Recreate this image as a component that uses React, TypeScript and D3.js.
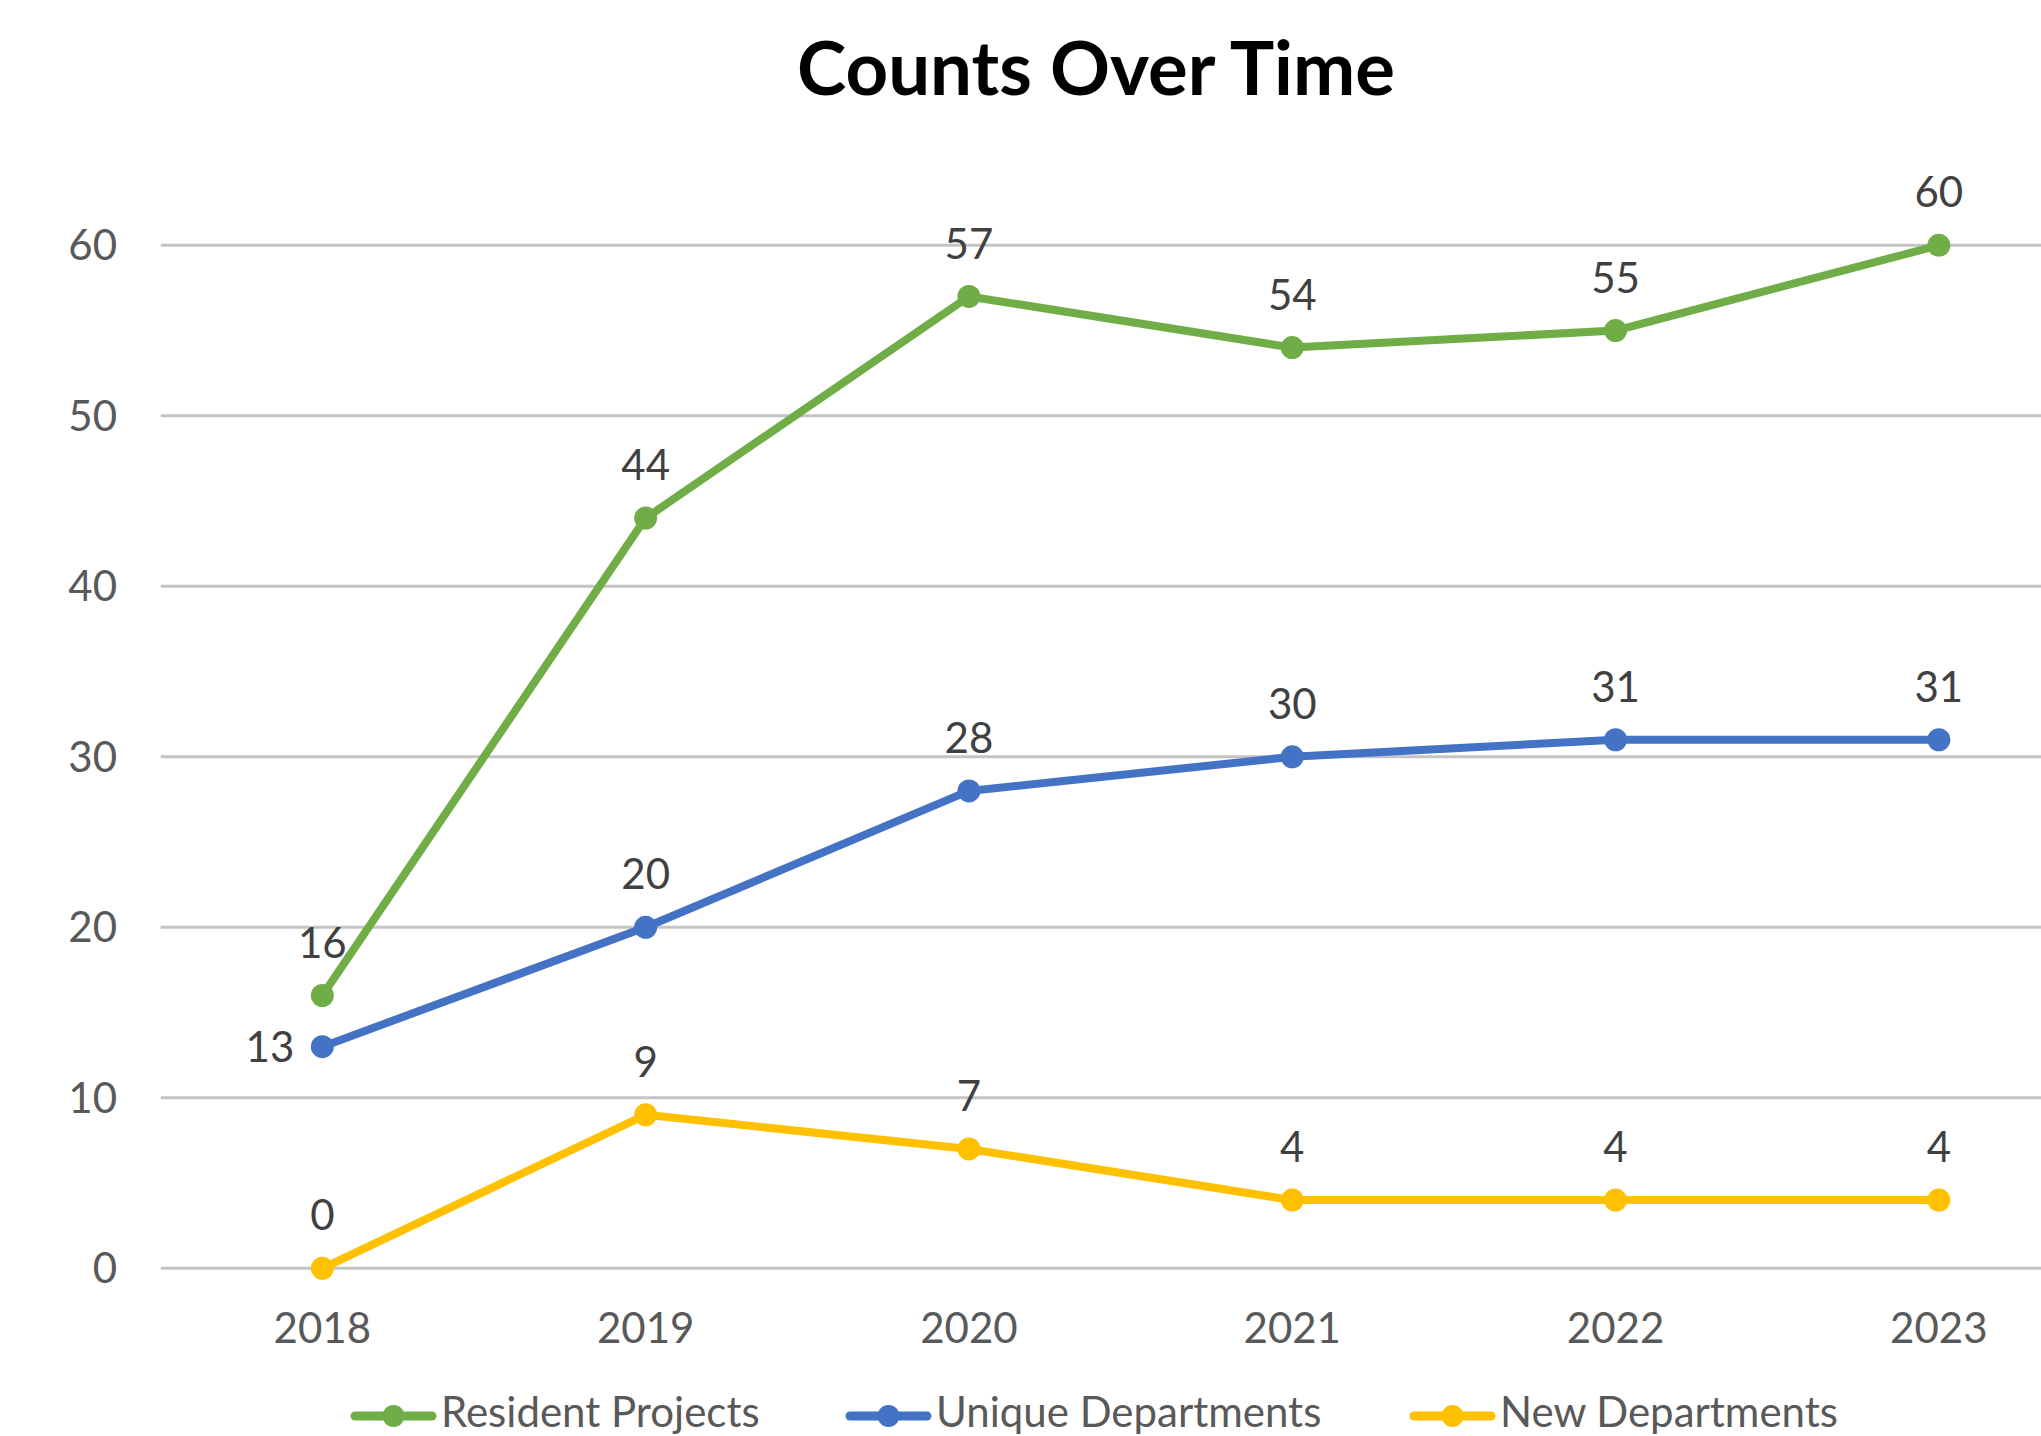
import React from "react";
import * as d3 from "d3";

const years = ["2018", "2019", "2020", "2021", "2022", "2023"];
const residentProjects = [16, 44, 57, 54, 55, 60];
const uniqueDepartments = [13, 20, 28, 30, 31, 31];
const newDepartments = [0, 9, 7, 4, 4, 4];
const yTicks = [0, 10, 20, 30, 40, 50, 60];
const seriesNames = ["Resident Projects", "Unique Departments", "New Departments"];
const seriesColors = ["#70AD47", "#4472C4", "#FFC000"];
const title = "Counts Over Time";

const W = 2041;
const H = 1436;
const FONT = "Lato, 'Open Sans', sans-serif";

export default function App() {
  const plotLeft = 160.7;
  const band = 323.3;
  const x = d3
    .scaleBand<string>()
    .domain(years)
    .range([plotLeft, plotLeft + band * years.length]);
  const y = d3.scaleLinear().domain([0, 60]).range([1268.3, 245.3]);
  const cx = (yr: string) => (x(yr) as number) + x.bandwidth() / 2;

  const series = [residentProjects, uniqueDepartments, newDepartments];
  const line = d3
    .line<number>()
    .x((_, i) => cx(years[i]))
    .y((v) => y(v));

  const legendX = [351, 846, 1410];

  return (
    <svg
      width={W}
      height={H}
      style={{ position: "absolute", left: 0, top: 0, display: "block" }}
      fontFamily={FONT}
    >
      <rect x={0} y={0} width={W} height={H} fill="#ffffff" />
      <text
        x={1096}
        y={95}
        textAnchor="middle"
        fontSize={74}
        fontWeight={700}
        fill="#000000"
        textLength={598}
        lengthAdjust="spacingAndGlyphs"
      >
        {title}
      </text>

      {yTicks.map((t) => (
        <g key={t}>
          <line x1={plotLeft} x2={W} y1={y(t)} y2={y(t)} stroke="#c4c4c4" strokeWidth={3} />
          <text
            x={117}
            y={y(t)}
            dy="0.36em"
            textAnchor="end"
            fontSize={42}
            fill="#595959"
          >
            {t}
          </text>
        </g>
      ))}

      {years.map((yr) => (
        <text
          key={yr}
          x={cx(yr)}
          y={1343}
          textAnchor="middle"
          fontSize={42}
          fill="#595959"
        >
          {yr}
        </text>
      ))}

      {series.map((vals, si) => (
        <g key={si}>
          <path
            d={line(vals) as string}
            fill="none"
            stroke={seriesColors[si]}
            strokeWidth={8}
            strokeLinejoin="round"
            strokeLinecap="round"
          />
          {vals.map((v, i) => (
            <circle key={i} cx={cx(years[i])} cy={y(v)} r={11.5} fill={seriesColors[si]} />
          ))}
        </g>
      ))}

      {series.map((vals, si) =>
        vals.map((v, i) => {
          const leftLabel = si === 1 && i === 0;
          return (
            <text
              key={`${si}-${i}`}
              x={leftLabel ? cx(years[i]) - 28 : cx(years[i])}
              y={leftLabel ? y(v) : y(v) - 53}
              dy="0.36em"
              textAnchor={leftLabel ? "end" : "middle"}
              fontSize={42}
              fill="#404040"
            >
              {v}
            </text>
          );
        })
      )}

      {seriesNames.map((name, i) => (
        <g key={name}>
          <line
            x1={legendX[i] + 4}
            x2={legendX[i] + 81}
            y1={1416}
            y2={1416}
            stroke={seriesColors[i]}
            strokeWidth={9}
            strokeLinecap="round"
          />
          <circle cx={legendX[i] + 42.5} cy={1416} r={11} fill={seriesColors[i]} />
          <text x={legendX[i] + 90} y={1427} fontSize={42} fill="#595959">
            {name}
          </text>
        </g>
      ))}
    </svg>
  );
}
